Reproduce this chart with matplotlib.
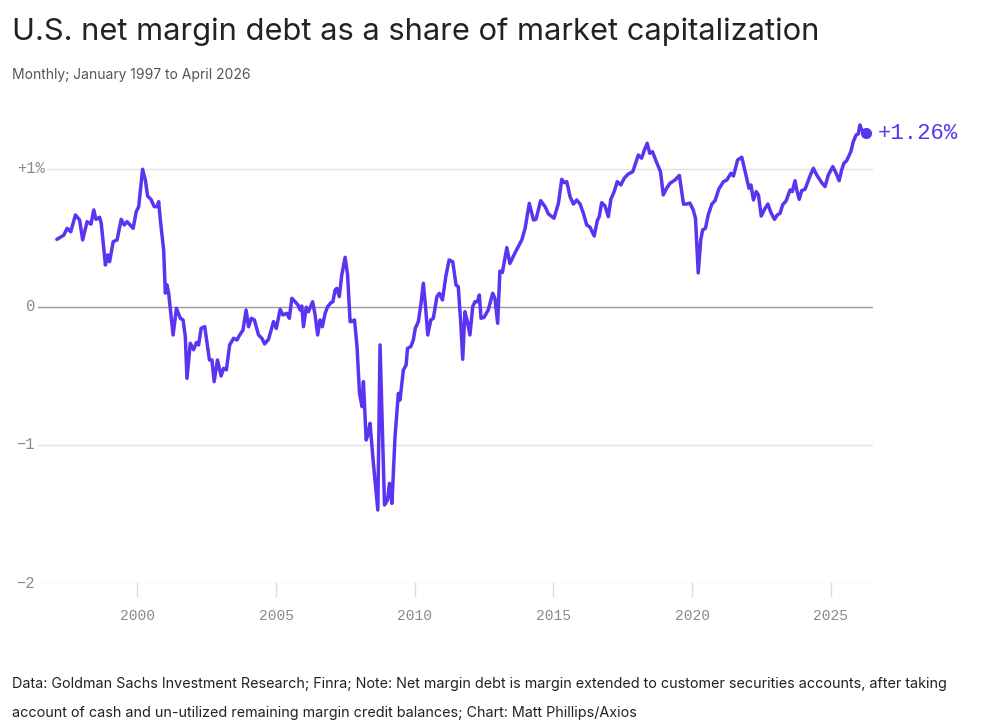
import matplotlib
matplotlib.use("Agg")
import matplotlib.pyplot as plt
import matplotlib.transforms as mtransforms

# ---- data (decimal year, percent of market cap) ----
years = [
    1997.10, 1997.35, 1997.47, 1997.60, 1997.77, 1997.92, 1998.03, 1998.19, 1998.33, 1998.43,
    1998.51, 1998.64, 1998.70, 1998.85, 1998.93, 1999.00, 1999.13, 1999.27, 1999.42, 1999.53,
    1999.63, 1999.85, 1999.96, 2000.05, 2000.19, 2000.29, 2000.37, 2000.49, 2000.61, 2000.71,
    2000.77, 2000.83, 2000.95, 2001.01, 2001.07, 2001.13, 2001.29, 2001.41, 2001.55, 2001.65,
    2001.73, 2001.79, 2001.91, 2002.03, 2002.13, 2002.21, 2002.30, 2002.43, 2002.60, 2002.69,
    2002.77, 2002.89, 2003.02, 2003.11, 2003.21, 2003.33, 2003.47, 2003.59, 2003.69, 2003.81,
    2003.92, 2004.01, 2004.11, 2004.22, 2004.37, 2004.49, 2004.59, 2004.73, 2004.91, 2005.01,
    2005.15, 2005.25, 2005.39, 2005.48, 2005.57, 2005.69, 2005.79, 2005.87, 2005.93, 2005.99,
    2006.09, 2006.17, 2006.32, 2006.41, 2006.50, 2006.59, 2006.67, 2006.77, 2006.86, 2006.98,
    2007.05, 2007.13, 2007.19, 2007.28, 2007.37, 2007.49, 2007.58, 2007.67, 2007.73, 2007.83,
    2007.92, 2008.01, 2008.10, 2008.15, 2008.25, 2008.33, 2008.39, 2008.51, 2008.67, 2008.75,
    2008.84, 2008.91, 2009.02, 2009.09, 2009.18, 2009.29, 2009.41, 2009.47, 2009.59, 2009.69,
    2009.74, 2009.86, 2009.95, 2010.02, 2010.13, 2010.22, 2010.31, 2010.40, 2010.47, 2010.58,
    2010.67, 2010.80, 2010.89, 2011.00, 2011.12, 2011.24, 2011.37, 2011.49, 2011.57, 2011.66,
    2011.73, 2011.81, 2011.90, 2011.99, 2012.09, 2012.17, 2012.26, 2012.33, 2012.39, 2012.50,
    2012.65, 2012.81, 2012.89, 2012.99, 2013.07, 2013.16, 2013.32, 2013.43, 2013.62, 2013.86,
    2013.98, 2014.13, 2014.28, 2014.37, 2014.54, 2014.70, 2014.82, 2015.02, 2015.18, 2015.30,
    2015.38, 2015.48, 2015.60, 2015.72, 2015.84, 2015.96, 2016.08, 2016.20, 2016.32, 2016.47,
    2016.58, 2016.65, 2016.74, 2016.86, 2016.98, 2017.07, 2017.19, 2017.30, 2017.43, 2017.55,
    2017.70, 2017.86, 2017.94, 2018.06, 2018.18, 2018.28, 2018.38, 2018.47, 2018.57, 2018.71,
    2018.86, 2018.96, 2019.08, 2019.20, 2019.38, 2019.54, 2019.69, 2019.80, 2019.92, 2020.04,
    2020.12, 2020.22, 2020.31, 2020.38, 2020.48, 2020.58, 2020.71, 2020.83, 2020.96, 2021.13,
    2021.25, 2021.40, 2021.49, 2021.64, 2021.79, 2021.91, 2022.05, 2022.12, 2022.21, 2022.31,
    2022.39, 2022.49, 2022.63, 2022.73, 2022.84, 2022.97, 2023.07, 2023.17, 2023.26, 2023.39,
    2023.53, 2023.61, 2023.71, 2023.77, 2023.86, 2023.95, 2024.07, 2024.25, 2024.37, 2024.49,
    2024.67, 2024.79, 2024.91, 2025.07, 2025.19, 2025.30, 2025.39, 2025.47, 2025.57, 2025.72,
    2025.81, 2025.91, 2025.99, 2026.05, 2026.11, 2026.25,
]
values = [
    0.49, 0.52, 0.57, 0.545, 0.667, 0.63, 0.486, 0.618, 0.60, 0.703,
    0.635, 0.65, 0.606, 0.304, 0.377, 0.328, 0.473, 0.486, 0.635, 0.594,
    0.618, 0.57, 0.69, 0.727, 0.998, 0.92, 0.804, 0.78, 0.727, 0.727,
    0.763, 0.63, 0.413, 0.10, 0.16, 0.10, -0.203, -0.01, -0.082, -0.094,
    -0.215, -0.517, -0.263, -0.31, -0.258, -0.275, -0.155, -0.142, -0.384, -0.384,
    -0.541, -0.384, -0.50, -0.444, -0.456, -0.275, -0.227, -0.239, -0.203, -0.167,
    -0.022, -0.143, -0.082, -0.094, -0.203, -0.227, -0.268, -0.234, -0.106, -0.155,
    -0.017, -0.058, -0.046, -0.082, 0.063, 0.038, 0.014, -0.022, 0.007, -0.143,
    -0.002, -0.034, 0.038, -0.058, -0.203, -0.094, -0.143, -0.046, 0.002, 0.031,
    0.038, 0.123, 0.135, 0.075, 0.232, 0.36, 0.232, -0.106, -0.106, -0.094,
    -0.287, -0.626, -0.722, -0.541, -0.964, -0.915, -0.843, -1.133, -1.471, -0.275,
    -0.94, -1.435, -1.399, -1.278, -1.423, -0.94, -0.626, -0.674, -0.457, -0.42,
    -0.30, -0.287, -0.239, -0.155, -0.106, 0.014, 0.172, -0.022, -0.203, -0.094,
    -0.082, 0.075, 0.099, 0.051, 0.22, 0.341, 0.328, 0.159, 0.147, -0.118,
    -0.379, -0.034, -0.106, -0.203, 0.002, 0.038, 0.038, 0.087, -0.082, -0.075,
    -0.022, 0.099, 0.063, -0.118, 0.26, 0.25, 0.43, 0.315, 0.394, 0.486,
    0.57, 0.751, 0.63, 0.635, 0.77, 0.727, 0.674, 0.643, 0.751, 0.925,
    0.901, 0.908, 0.799, 0.746, 0.775, 0.746, 0.679, 0.594, 0.578, 0.514,
    0.625, 0.654, 0.756, 0.732, 0.654, 0.78, 0.836, 0.908, 0.884, 0.932,
    0.964, 0.98, 1.029, 1.101, 1.078, 1.138, 1.186, 1.114, 1.125, 1.053,
    0.98, 0.812, 0.86, 0.896, 0.92, 0.953, 0.745, 0.746, 0.753, 0.703,
    0.643, 0.247, 0.486, 0.558, 0.57, 0.667, 0.745, 0.772, 0.854, 0.908,
    0.92, 0.969, 0.949, 1.065, 1.085, 0.98, 0.86, 0.884, 0.775, 0.836,
    0.812, 0.659, 0.715, 0.746, 0.684, 0.635, 0.667, 0.679, 0.739, 0.77,
    0.848, 0.836, 0.915, 0.848, 0.78, 0.843, 0.853, 0.949, 1.005, 0.957,
    0.901, 0.872, 0.957, 1.017, 0.969, 0.915, 0.993, 1.041, 1.06, 1.125,
    1.198, 1.246, 1.254, 1.319, 1.283, 1.26,
]
x_ticks = [2000, 2005, 2010, 2015, 2020, 2025]
x_tick_labels = ["2000", "2005", "2010", "2015", "2020", "2025"]
y_ticks = [1, 0, -1, -2]
y_tick_labels = ["+1%", "0", "\u22121", "\u22122"]
last_label = "+1.26%"

title = "U.S. net margin debt as a share of market capitalization"
subtitle = "Monthly; January 1997 to April 2026"
footer1 = ("Data: Goldman Sachs Investment Research; Finra; Note: Net margin debt is margin "
           "extended to customer securities accounts, after taking")
footer2 = ("account of cash and un-utilized remaining margin credit balances; "
           "Chart: Matt Phillips/Axios")

PURPLE = "#5b34f2"
W, H = 1002, 726

fig = plt.figure(figsize=(W / 100, H / 100), dpi=100)
fig.patch.set_facecolor("white")

# axes: left px 38, right px 873, top px 115, bottom px 583
ax_l, ax_r, ax_t, ax_b = 38, 873, 115, 583
ax = fig.add_axes([ax_l / W, 1 - ax_b / H, (ax_r - ax_l) / W, (ax_b - ax_t) / H])
ax.set_xlim(1996.42, 2026.52)
ax.set_ylim(-2, 1.391)
for s in ax.spines.values():
    s.set_visible(False)
ax.set_xticks([])
ax.set_yticks([])
ax.patch.set_alpha(0)

# gridlines
mono = "Liberation Mono"
for v, lab in zip(y_ticks, y_tick_labels):
    if v == 0:
        ax.axhline(v, color="#9a9a9a", lw=1.0, zorder=1)
    elif lab.endswith("%"):
        ax.axhline(v, xmin=9 / (ax_r - ax_l), color="#e2e2e2", lw=1.0, zorder=1)
    else:
        ax.axhline(v, color="#e2e2e2", lw=1.0, zorder=1)

ylab_tr = mtransforms.blended_transform_factory(fig.transFigure, ax.transData)
for v, lab in zip(y_ticks, y_tick_labels):
    xr = 45 if lab.endswith("%") else 35
    ax.text(xr / W, v, lab, transform=ylab_tr, ha="right", va="center",
            fontsize=11.2, family=mono, color="#8a8a8a")

# x ticks below the axis
xt_tr = mtransforms.blended_transform_factory(ax.transData, fig.transFigure)
for xv, lab in zip(x_ticks, x_tick_labels):
    ax.plot([xv, xv], [1 - 583 / H, 1 - 596 / H], transform=xt_tr, color="#dddddd",
            lw=1.0, clip_on=False)
    ax.text(xv, 1 - 616 / H, lab, transform=xt_tr, ha="center", va="center",
            fontsize=10.5, family=mono, color="#8a8a8a")

# line
ax.plot(years, values, color=PURPLE, lw=2.5, solid_joinstyle="round",
        solid_capstyle="round", zorder=3, clip_on=False)
ax.plot([years[-1]], [values[-1]], "o", color=PURPLE, ms=7, zorder=4, clip_on=False)
ax.annotate(last_label, xy=(years[-1], values[-1]), xytext=(9, 0),
            textcoords="offset points", ha="left", va="center",
            fontsize=16, family=mono, color=PURPLE, annotation_clip=False)

# titles and footer
fig.text(12 / W, 1 - 32 / H, title, ha="left", va="center", fontsize=22.2,
         family="Inter", color="#222222")
fig.text(12 / W, 1 - 75 / H, subtitle, ha="left", va="center", fontsize=10,
         family="Inter", color="#555555")
fig.text(12 / W, 1 - 684 / H, footer1, ha="left", va="center", fontsize=10.35,
         family="Inter", color="#222222")
fig.text(12 / W, 1 - 713 / H, footer2, ha="left", va="center", fontsize=10.35,
         family="Inter", color="#222222")

fig.savefig("out.png", dpi=100, facecolor="white")
